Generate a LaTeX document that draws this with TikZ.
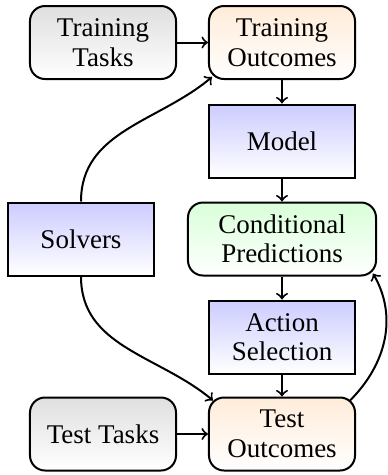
\documentclass[tikz,border=0pt]{standalone}
\usepackage{fontspec}
\setmainfont{Liberation Serif}
\begin{document}
\begin{tikzpicture}[x=0.4pt,y=-0.4pt,
  box/.style={draw, line width=0.8pt, minimum width=58.4pt, minimum height=29.2pt,
    align=center, font=\fontsize{10.8}{11.8}\selectfont, inner sep=2pt},
  rbox/.style={box, rounded corners=6pt},
  grayfill/.style={top color=gray!25, bottom color=white},
  orangefill/.style={top color=orange!15, bottom color=white},
  bluefill/.style={top color=blue!20, bottom color=white},
  greenfill/.style={top color=green!15, bottom color=white},
  conn/.style={->, line width=0.8pt}]
\useasboundingbox (0,0) rectangle (388,475);
\node[rbox, grayfill] (traintask) at (103,42.5) {Training\\Tasks};
\node[rbox, orangefill] (trainout) at (282,42.5) {Training\\Outcomes};
\node[box, bluefill] (model) at (282,141) {Model};
\node[rbox, greenfill, minimum width=75.2pt] (cond) at (282,239) {Conditional\\Predictions};
\node[box, bluefill] (solvers) at (81,239) {Solvers};
\node[box, bluefill] (action) at (282,337) {Action\\Selection};
\node[rbox, orangefill] (testout) at (282,434) {Test\\Outcomes};
\node[rbox, grayfill] (testtask) at (103,434) {Test Tasks};
\draw[conn] (traintask) -- (trainout);
\draw[conn] (trainout) -- (model);
\draw[conn] (model) -- (cond);
\draw[conn] (cond) -- (action);
\draw[conn] (action) -- (testout);
\draw[conn] (testtask) -- (testout);
\draw[conn] (solvers.north) to[out=90, in=220] ([shift={(1.6pt,1.2pt)}]trainout.south west);
\draw[conn] (solvers.south) to[out=-90, in=140] ([shift={(2pt,-1.6pt)}]testout.north west);
\draw[conn] ([shift={(-2.4pt,-1.6pt)}]testout.north east) to[out=45, in=-60] ([shift={(-1.6pt,1.2pt)}]cond.south east);
\end{tikzpicture}
\end{document}
